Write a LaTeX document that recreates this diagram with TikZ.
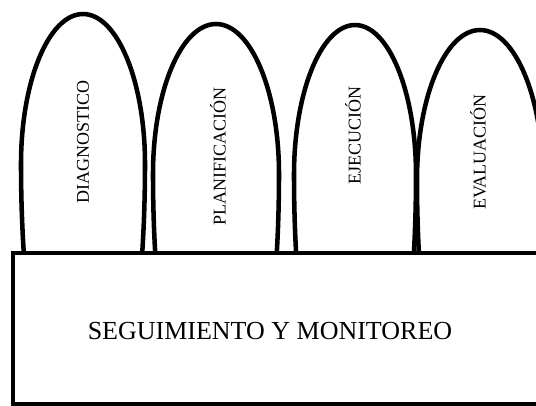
\documentclass[tikz,border=0pt]{standalone}
\usepackage{fontspec}
\setmainfont{Liberation Serif}
\usepackage{tikz}
\usetikzlibrary{calc}
\tikzset{fase/.style={line width=3.4pt}, rotulo/.style={rotate=90, font=\fontsize{13.5}{16}\selectfont}}
\newcommand{\etapa}[3]{\draw[fase] (#1-#3,#2) arc[start angle=180, end angle=160, x radius=#3, y radius=300] (#1-#3,#2) arc[start angle=180, end angle=360, x radius=#3, y radius=150] arc[start angle=0, end angle=20, x radius=#3, y radius=300];}

\begin{document}
\begin{tikzpicture}[x=0.75pt, y=-0.75pt]
\useasboundingbox (0,0) rectangle (536,405);
\clip (0,0) rectangle (536,405);
\etapa{83}{164}{62}
\etapa{216}{174}{63}
\etapa{355}{175}{61}
\etapa{480}{180}{63}
\node[rotulo] (diag) at (83,142) {DIAGNOSTICO};
\node[rotulo] (plan) at (218,156) {PLANIFICACIÓN};
\node[rotulo] (ejec) at (353,135) {EJECUCIÓN};
\node[rotulo] (eval) at (478,152) {EVALUACIÓN};
\draw[fase, line width=3.2pt, fill=white] (13,253) rectangle (545,404);
\node[font=\fontsize{19.5}{23}\selectfont] (seg) at (270,331) {SEGUIMIENTO Y MONITOREO};
\end{tikzpicture}
\end{document}
